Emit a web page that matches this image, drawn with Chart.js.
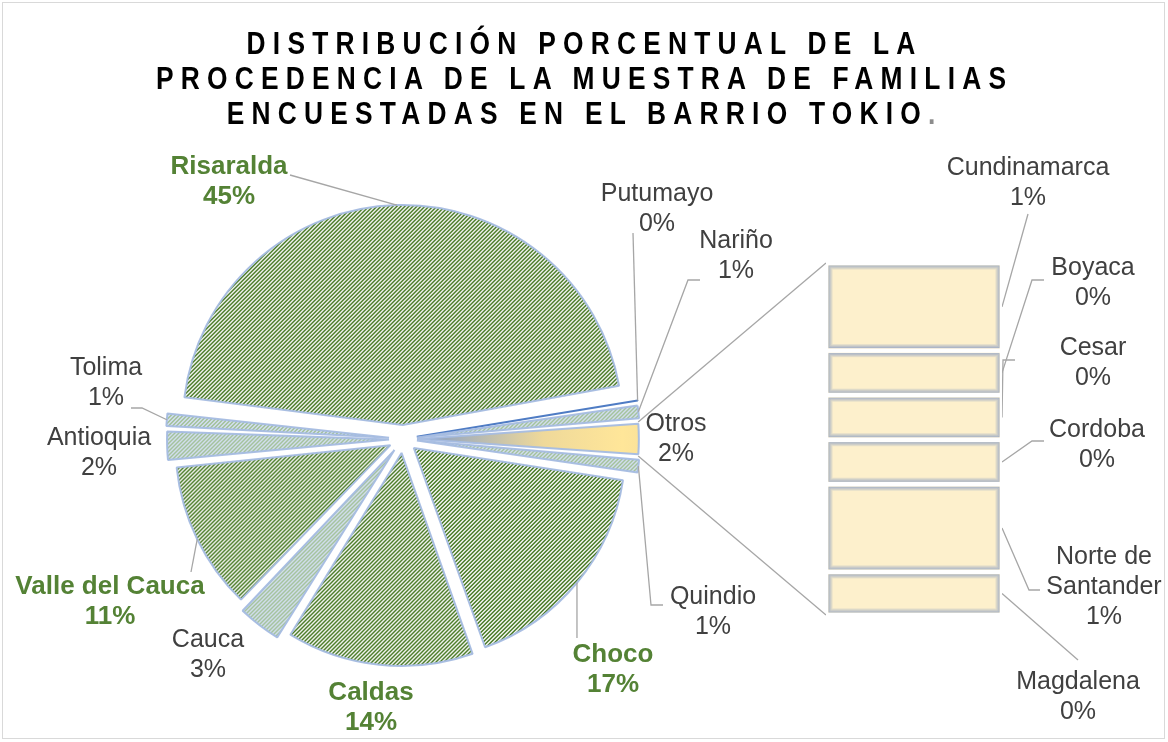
<!DOCTYPE html>
<html>
<head>
<meta charset="utf-8">
<script src="https://cdn.jsdelivr.net/npm/chart.js@4.4.0/dist/chart.umd.min.js"></script>
<style>
  body { margin: 0; background: #fff; }
  #wrap { position: relative; width: 1168px; height: 742px; overflow: hidden; background: #fff; }
  #frame { position: absolute; left: 2px; top: 2px; width: 1163px; height: 737px; border: 1px solid #d9d9d9; box-sizing: border-box; }
  #title { position: absolute; left: 0; top: 26px; width: 1168px; text-align: center; font: bold 31px 'Liberation Sans', Arial, sans-serif; letter-spacing: 8.5px; line-height: 35px; color: #000; transform: scaleX(0.85); transform-origin: 588px 0; }
  canvas { position: absolute; }
</style>
</head>
<body>
<div id="wrap">
  <div id="frame"></div>
  <canvas id="pieChart" width="1168" height="742" style="left:0;top:0"></canvas>
  <canvas id="barChart" width="176" height="352" style="left:826px;top:263px"></canvas>
  <div id="title">DISTRIBUCIÓN PORCENTUAL DE LA<br>PROCEDENCIA DE LA MUESTRA DE FAMILIAS<br>ENCUESTADAS EN EL BARRIO TOKIO<span style="color:#8c8c8c">.</span></div>
</div>
<script>
'use strict';

// data (percent of surveyed families)
let pieLabels = ['Quindio', 'Choco', 'Caldas', 'Cauca', 'Valle del Cauca', 'Antioquia', 'Tolima', 'Risaralda', 'Putumayo', 'Nariño'];
let pieValues = [1.2, 17.1, 14.2, 3.4, 11.2, 2.3, 1.2, 45.3, 0.31, 1.2];
let otrosLabel = 'Otros';
let barLabels = ['Cundinamarca', 'Boyaca', 'Cesar', 'Cordoba', 'Norte de Santander', 'Magdalena'];
let barValues = [0.61, 0.31, 0.31, 0.31, 0.61, 0.30];

// "Otros" slice is the sum of the bar
let otrosValue = barValues.reduce((a, b) => a + b, 0);
let allLabels = [otrosLabel].concat(pieLabels);
let allValues = [otrosValue].concat(pieValues);
let total = allValues.reduce((a, b) => a + b, 0);

let greenSlices = ['Choco', 'Caldas', 'Valle del Cauca', 'Risaralda'];

// where each label sits, plus the bends of its leader line
let labelSpots = {
  'Risaralda': { x: 229, y: 167, leader: [[290, 175]] },
  'Putumayo': { x: 657, y: 194, leader: [[633, 233]] },
  'Nariño': { x: 736, y: 241, leader: [[700, 280], [688, 280]] },
  'Otros': { x: 676, y: 424 },
  'Quindio': { x: 713, y: 597, leader: [[663, 605], [651, 605]] },
  'Choco': { x: 613, y: 655, leader: [[577, 638]] },
  'Caldas': { x: 371, y: 693 },
  'Cauca': { x: 208, y: 640 },
  'Valle del Cauca': { x: 110, y: 587, leader: [[191, 572]] },
  'Antioquia': { x: 99, y: 438 },
  'Tolima': { x: 106, y: 368, leader: [[131, 408], [142, 408]] },
  'Cundinamarca': { x: 1028, y: 168, leader: [[1028, 214]] },
  'Boyaca': { x: 1093, y: 268, leader: [[1044, 280], [1032, 280]] },
  'Cesar': { x: 1093, y: 348, leader: [[1015, 360], [1003, 360]] },
  'Cordoba': { x: 1097, y: 430, leader: [[1044, 441], [1032, 441]] },
  'Norte de Santander': { x: 1104, y: 557, wrap: true, leader: [[1040, 590], [1029, 590]] },
  'Magdalena': { x: 1078, y: 682, leader: [[1078, 660]] }
};

let pieCanvas = document.getElementById('pieChart');
let pieCtx = pieCanvas.getContext('2d');

function stripes(dark, light) {
  let tile = document.createElement('canvas');
  tile.width = 4;
  tile.height = 4;
  let g = tile.getContext('2d');
  g.fillStyle = light;
  g.fillRect(0, 0, 4, 4);
  g.fillStyle = dark;
  for (let y = 0; y < 4; y++) {
    for (let x = 0; x < 4; x++) {
      if ((x + y) % 4 < 2) g.fillRect(x, y, 1, 1);
    }
  }
  return pieCtx.createPattern(tile, 'repeat');
}

let greenPattern = stripes('#4a7b27', '#f4f6f2');
let lightPattern = stripes('#a3c29b', '#d3dfef');

function sliceFill(context) {
  let name = allLabels[context.dataIndex];
  if (name === otrosLabel) {
    let area = context.chart.chartArea;
    if (!area) return '#ffe699';
    let cx = (area.left + area.right) / 2 + 14;
    let cy = (area.top + area.bottom) / 2;
    let g = context.chart.ctx.createRadialGradient(cx, cy, 0, cx, cy, 225);
    g.addColorStop(0, '#8fa3c2');
    g.addColorStop(0.5, '#efd99a');
    g.addColorStop(0.85, '#ffe699');
    g.addColorStop(1, '#f7e09a');
    return g;
  }
  if (name === 'Putumayo') return '#5f88c9';
  if (greenSlices.includes(name)) return greenPattern;
  return lightPattern;
}

function drawLeader(ctx, pts) {
  ctx.save();
  ctx.beginPath();
  ctx.moveTo(pts[0][0], pts[0][1]);
  for (let i = 1; i < pts.length; i++) ctx.lineTo(pts[i][0], pts[i][1]);
  ctx.strokeStyle = '#a6a6a6';
  ctx.lineWidth = 1.3;
  ctx.stroke();
  ctx.restore();
}

function drawLabel(ctx, name, pct, spot, bold) {
  let lines = [name];
  if (spot.wrap) {
    let cut = name.lastIndexOf(' ');
    lines = [name.slice(0, cut), name.slice(cut + 1)];
  }
  lines.push(pct);
  ctx.save();
  ctx.font = bold ? 'bold 26px "Liberation Sans", Arial, sans-serif' : '25px "Liberation Sans", Arial, sans-serif';
  ctx.fillStyle = bold ? '#548235' : '#404040';
  ctx.textAlign = 'center';
  ctx.textBaseline = 'middle';
  lines.forEach((t, i) => ctx.fillText(t, spot.x, spot.y + i * 30));
  ctx.restore();
}

// point on the outside of an exploded slice at a given angle
function arcPoint(arc, angle) {
  let off = (arc.options.offset || 0) / 4;
  let circ = arc.endAngle - arc.startAngle;
  let r = arc.outerRadius + off * (1 - Math.sin(Math.min(Math.PI, circ)));
  let mid = (arc.startAngle + arc.endAngle) / 2;
  return [arc.x + Math.cos(mid) * off + Math.cos(angle) * r, arc.y + Math.sin(mid) * off + Math.sin(angle) * r];
}

// bar of the "Otros" breakdown
let barGlow = {
  id: 'barGlow',
  afterDatasetsDraw(chart) {
    let ctx = chart.ctx;
    chart.data.datasets.forEach((ds, i) => {
      let bar = chart.getDatasetMeta(i).data[0];
      let left = bar.x - bar.width / 2 + 2.5;
      let right = bar.x + bar.width / 2 - 2.5;
      let top = Math.min(bar.y, bar.base) + 2.5;
      let bottom = Math.max(bar.y, bar.base) - 2.5;
      for (let k = 0; k < 4; k++) {
        ctx.strokeStyle = 'rgba(135, 155, 195, ' + (0.75 - k * 0.18) + ')';
        ctx.lineWidth = 1;
        ctx.strokeRect(left + k + 0.5, top + k + 0.5, right - left - 2 * k - 1, bottom - top - 2 * k - 1);
      }
    });
  }
};

let barDatasets = [];
for (let i = 0; i < barLabels.length; i++) {
  barDatasets.push({
    label: barLabels[i],
    data: [barValues[i]],
    backgroundColor: '#fdf0cc',
    borderColor: '#ffffff',
    borderWidth: 2.5,
    borderSkipped: false,
    barPercentage: 1,
    categoryPercentage: 1
  });
}

let barChart = new Chart(document.getElementById('barChart').getContext('2d'), {
  type: 'bar',
  data: { labels: [otrosLabel], datasets: barDatasets },
  options: {
    responsive: false,
    animation: false,
    events: [],
    layout: { padding: 0 },
    plugins: { legend: { display: false }, tooltip: { enabled: false } },
    scales: {
      x: { stacked: true, display: false },
      y: { stacked: true, display: false, min: 0, max: otrosValue, reverse: true }
    }
  },
  plugins: [barGlow]
});

let pieDecor = {
  id: 'pieDecor',
  afterDraw(chart) {
    let ctx = chart.ctx;
    let arcs = chart.getDatasetMeta(0).data;

    // connectors from the Otros slice to the bar
    let bx = barChart.canvas.offsetLeft;
    let by = barChart.canvas.offsetTop;
    let topBar = barChart.getDatasetMeta(0).data[0];
    let lowBar = barChart.getDatasetMeta(barValues.length - 1).data[0];
    let otros = arcs[0];
    drawLeader(ctx, [arcPoint(otros, otros.startAngle), [bx + topBar.x - topBar.width / 2, by + Math.min(topBar.y, topBar.base)]]);
    drawLeader(ctx, [arcPoint(otros, otros.endAngle), [bx + lowBar.x - lowBar.width / 2, by + Math.max(lowBar.y, lowBar.base)]]);

    arcs.forEach((arc, i) => {
      let name = allLabels[i];
      let spot = labelSpots[name];
      let pct = Math.round(allValues[i] / total * 100) + '%';
      if (spot.leader) {
        drawLeader(ctx, spot.leader.concat([arcPoint(arc, (arc.startAngle + arc.endAngle) / 2)]));
      }
      drawLabel(ctx, name, pct, spot, greenSlices.includes(name));
    });

    barLabels.forEach((name, i) => {
      let bar = barChart.getDatasetMeta(i).data[0];
      let spot = labelSpots[name];
      let pct = Math.round(barValues[i] / total * 100) + '%';
      let edge = [bx + bar.x + bar.width / 2, by + (bar.y + bar.base) / 2];
      drawLeader(ctx, spot.leader.concat([edge]));
      drawLabel(ctx, name, pct, spot, false);
    });
  }
};

let otrosDeg = otrosValue / total * 360;

let pieChart = new Chart(pieCtx, {
  type: 'pie',
  data: {
    labels: allLabels,
    datasets: [{
      data: allValues,
      backgroundColor: sliceFill,
      borderColor: allLabels.map(n => n === 'Putumayo' ? '#4f7cc4' : 'rgba(165, 188, 226, 0.95)'),
      borderWidth: 2,
      offset: 56,
      radius: 210
    }]
  },
  options: {
    responsive: false,
    animation: false,
    events: [],
    rotation: 90 - otrosDeg / 2,
    layout: { padding: { left: 0, right: 362, top: 136, bottom: 0 } },
    plugins: { legend: { display: false }, tooltip: { enabled: false } }
  },
  plugins: [pieDecor]
});
</script>
</body>
</html>
